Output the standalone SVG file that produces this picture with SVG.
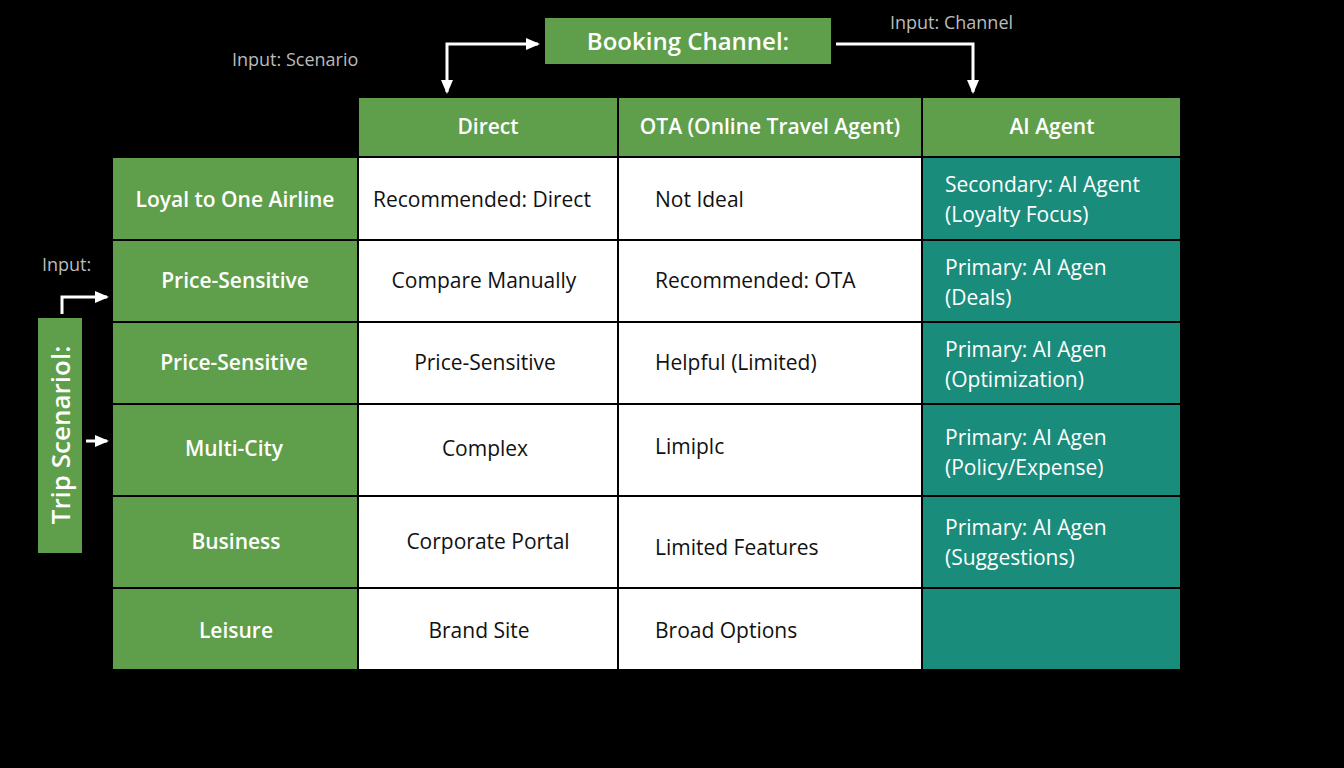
<svg xmlns="http://www.w3.org/2000/svg" width="1344" height="768" viewBox="0 0 1344 768">
<style>
text{font-family:"Open Sans","Liberation Sans",sans-serif;font-size:21px}
.g{fill:#5f9e4a;stroke:#000;stroke-width:2}
.w{fill:#fff;stroke:#000;stroke-width:2}
.t{fill:#1a8c7c;stroke:#000;stroke-width:2}
.hw{fill:#fff;font-weight:600;text-anchor:middle}
.lw{fill:#fff}
.b{fill:#111}
.bc{fill:#111;text-anchor:middle}
.in{fill:#bbb;font-size:18px}
.c{fill:none;stroke:#fff;stroke-width:3}
</style>
<defs><marker id="a" markerWidth="14" markerHeight="12" refX="12" refY="6" orient="auto-start-reverse" markerUnits="userSpaceOnUse"><path d="M0,0L14,6L0,12z" fill="#fff"/></marker></defs>
<rect width="1344" height="768" fill="#000"/>
<g id="connectors">
<path class="c" d="M447,92V44H538" marker-end="url(#a)" marker-start="url(#a)"/>
<path class="c" d="M836,44H973V92" marker-end="url(#a)"/>
<path class="c" d="M62,314V297H107" marker-end="url(#a)"/>
<path class="c" d="M86,441H107" marker-end="url(#a)"/>
</g>
<g id="booking"><rect x="545" y="18" width="286" height="46" fill="#5f9e4a"/><text x="688" y="50" class="hw" style="font-size:24px">Booking Channel:</text></g>
<g id="trip"><rect x="38" y="318" width="44" height="235" fill="#5f9e4a"/><text transform="translate(70,435) rotate(-90)" class="hw" style="font-size:26px">Trip Scenariol:</text></g>
<text x="232" y="66" class="in">Input: Scenario</text>
<text x="890" y="29" class="in">Input: Channel</text>
<text x="42" y="271" class="in">Input:</text>
<g id="header">
<rect class="g" x="358" y="97" width="260" height="60"/><text x="488" y="134" class="hw">Direct</text>
<rect class="g" x="618" y="97" width="304" height="60"/><text x="770" y="134" class="hw">OTA (Online Travel Agent)</text>
<rect class="g" x="922" y="97" width="259" height="60"/><text x="1052" y="134" class="hw">AI Agent</text>
</g>
<g id="row1">
<rect class="g" x="112" y="157" width="246" height="83"/><text x="235" y="207" class="hw">Loyal to One Airline</text>
<rect class="w" x="358" y="157" width="260" height="83"/><text x="373" y="207" class="b">Recommended: Direct</text>
<rect class="w" x="618" y="157" width="304" height="83"/><text x="655" y="207" class="b">Not Ideal</text>
<rect class="t" x="922" y="157" width="259" height="83"/><text x="945" y="192" class="lw">Secondary: AI Agent</text><text x="945" y="222" class="lw">(Loyalty Focus)</text>
</g>
<g id="row2">
<rect class="g" x="112" y="240" width="246" height="82"/><text x="235" y="288" class="hw">Price-Sensitive</text>
<rect class="w" x="358" y="240" width="260" height="82"/><text x="484" y="288" class="bc">Compare Manually</text>
<rect class="w" x="618" y="240" width="304" height="82"/><text x="655" y="288" class="b">Recommended: OTA</text>
<rect class="t" x="922" y="240" width="259" height="82"/><text x="945" y="275" class="lw">Primary: AI Agen</text><text x="945" y="305" class="lw">(Deals)</text>
</g>
<g id="row3">
<rect class="g" x="112" y="322" width="246" height="82"/><text x="234" y="370" class="hw">Price-Sensitive</text>
<rect class="w" x="358" y="322" width="260" height="82"/><text x="485" y="370" class="bc">Price-Sensitive</text>
<rect class="w" x="618" y="322" width="304" height="82"/><text x="655" y="370" class="b">Helpful (Limited)</text>
<rect class="t" x="922" y="322" width="259" height="82"/><text x="945" y="357" class="lw">Primary: AI Agen</text><text x="945" y="387" class="lw">(Optimization)</text>
</g>
<g id="row4">
<rect class="g" x="112" y="404" width="246" height="92"/><text x="234" y="456" class="hw">Multi-City</text>
<rect class="w" x="358" y="404" width="260" height="92"/><text x="485" y="456" class="bc">Complex</text>
<rect class="w" x="618" y="404" width="304" height="92"/><text x="655" y="454" class="b">Limiplc</text>
<rect class="t" x="922" y="404" width="259" height="92"/><text x="945" y="445" class="lw">Primary: AI Agen</text><text x="945" y="475" class="lw">(Policy/Expense)</text>
</g>
<g id="row5">
<rect class="g" x="112" y="496" width="246" height="92"/><text x="236" y="549" class="hw">Business</text>
<rect class="w" x="358" y="496" width="260" height="92"/><text x="488" y="549" class="bc">Corporate Portal</text>
<rect class="w" x="618" y="496" width="304" height="92"/><text x="655" y="555" class="b">Limited Features</text>
<rect class="t" x="922" y="496" width="259" height="92"/><text x="945" y="535" class="lw">Primary: AI Agen</text><text x="945" y="565" class="lw">(Suggestions)</text>
</g>
<g id="row6">
<rect class="g" x="112" y="588" width="246" height="82"/><text x="236" y="638" class="hw">Leisure</text>
<rect class="w" x="358" y="588" width="260" height="82"/><text x="479" y="638" class="bc">Brand Site</text>
<rect class="w" x="618" y="588" width="304" height="82"/><text x="655" y="638" class="b">Broad Options</text>
<rect class="t" x="922" y="588" width="259" height="82"/>
</g>
</svg>
